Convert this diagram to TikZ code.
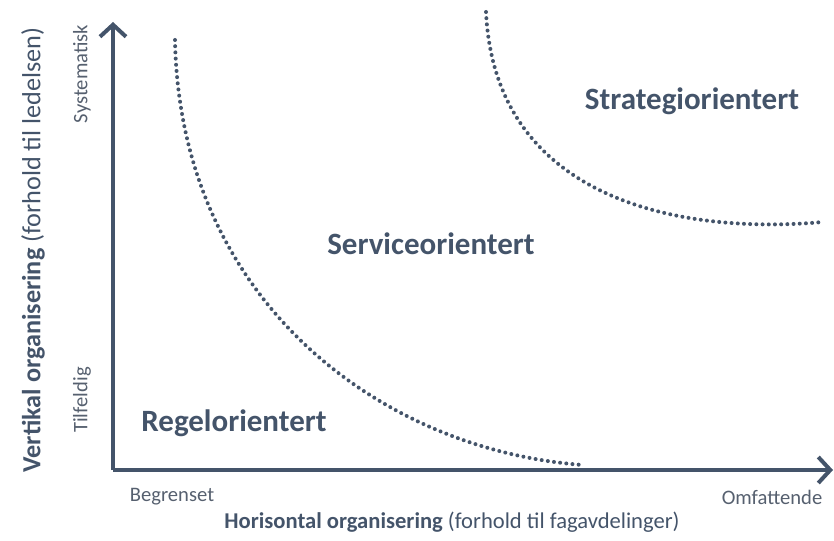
\documentclass[tikz,border=0pt]{standalone}
\usepackage{fontspec}
\setmainfont{Carlito}
\usepackage{tikz}
\usetikzlibrary{arrows.meta}

\definecolor{slate}{HTML}{44546A}
\definecolor{lightslate}{HTML}{56606F}

\begin{document}
\begin{tikzpicture}[x=0.5pt, y=-0.5pt,
		axis/.style={line width=2pt, slate, -{Straight Barb[length=6pt, width=13pt, line width=2pt]}},
		border/.style={line width=2pt, slate, line cap=round, dash pattern=on 0pt off 3.1pt},
		zone/.style={font=\fontsize{15.5}{18}\selectfont\bfseries, text=slate},
		tick/.style={font=\fontsize{10.3}{12}\selectfont, text=lightslate},
		axislabel/.style={font=\fontsize{11.3}{13}\selectfont, text=slate}]
			\useasboundingbox (0, 0) rectangle (834, 540);

			% axes
			\coordinate (origin) at (113, 470);
			\coordinate (ytop) at (113, 22);
			\coordinate (xend) at (833, 470);
			\draw [axis] (origin) -- (ytop);
			\draw [axis] (origin) -- (xend);

			\node [tick, rotate=90] (systematisk) at (82, 74) {Systematisk};
			\node [tick, rotate=90] (tilfeldig) at (82, 400) {Tilfeldig};
			\node [axislabel, font=\fontsize{13.1}{16}\selectfont, rotate=90] (vertikal) at (33, 250) {\textbf{Vertikal organisering} (forhold til ledelsen)};

			\node [tick] (begrenset) at (172, 497) {Begrenset};
			\node [tick] (omfattende) at (772, 497) {Omfattende};
			\node [axislabel] (horisontal) at (452, 522) {\textbf{Horisontal organisering} (forhold til fagavdelinger)};

			% dotted borders between the zones
			\draw [border] (175, 40) .. controls (180, 300) and (380, 450) .. (583, 465);
			\draw [border] (486, 12) .. controls (495, 200) and (680, 235) .. (823, 222);

			\node [zone] (regel) at (234, 423) {Regelorientert};
			\node [zone] (service) at (431, 244) {Serviceorientert};
			\node [zone] (strategi) at (692, 101) {Strategiorientert};
		\end{tikzpicture}
\end{document}
